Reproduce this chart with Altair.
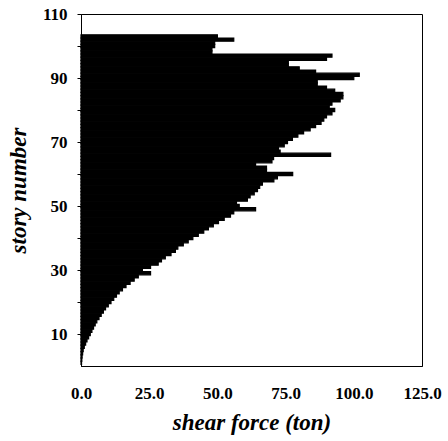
import altair as alt
import pandas as pd

stories = list(range(1, 104))
shear = [
    0.2, 0.3, 0.4, 0.6, 0.8, 1.2, 1.7, 2.2, 2.8, 3.4,
    4.0, 4.6, 5.2, 5.8, 6.6, 7.4, 8.2, 9.0, 10.0, 11.0,
    12.0, 13.0, 14.0, 15.2, 16.5, 18.0, 19.5, 21.0, 25.5, 22.5,
    25.5, 28.3, 29.5, 30.9, 33.0, 34.6, 35.5, 37.5, 39.3, 41.0,
    43.0, 45.0, 46.7, 48.5, 50.4, 52.5, 54.8, 56.0, 64.0, 58.0,
    57.0, 61.0, 62.0, 63.5, 64.7, 65.5, 66.5, 70.7, 72.0, 77.6,
    68.0, 68.0, 64.0, 70.0, 70.6, 91.5, 73.0, 72.4, 74.5, 75.7,
    77.5, 79.5, 81.6, 84.0, 86.0, 88.0, 89.0, 90.0, 92.0, 93.0,
    91.0, 92.0, 95.0, 96.0, 96.0, 93.0, 90.0, 86.6, 86.6, 100.0,
    102.0, 86.0, 80.0, 76.0, 76.0, 90.0, 92.0, 48.0, 48.0, 49.0,
    49.0, 56.0, 50.0,
]

df = pd.DataFrame({"story": stories, "shear": shear})
df["lo"] = df["story"] - 0.5
df["hi"] = df["story"] + 0.5
df["zero"] = 0.0

FONT = "Liberation Serif"

chart = alt.Chart(df).mark_rect(color="black", stroke="black", strokeWidth=1.2).encode(
    x=alt.X("zero:Q", scale=alt.Scale(domain=[0, 125], nice=False, zero=True),
            axis=alt.Axis(values=[0, 25, 50, 75, 100, 125], format=".1f", grid=False,
                          ticks=False, labelPadding=19, labelFontSize=17, labelFlush=False,
                          labelFont=FONT, labelFontWeight="bold", labelColor="black",
                          domainColor="black", title="shear force (ton)",
                          titleFont=FONT, titleFontSize=23, titleFontWeight="bold",
                          titleFontStyle="italic", titlePadding=10, titleColor="black")),
    x2="shear:Q",
    y=alt.Y("lo:Q", scale=alt.Scale(domain=[0, 110], nice=False),
            axis=alt.Axis(values=list(range(10, 111, 10)),
                          labelExpr="datum.value % 20 == 10 ? datum.label : ''",
                          grid=False, tickSize=4, tickColor="black", labelPadding=10,
                          labelFontSize=17, labelFont=FONT, labelFontWeight="bold",
                          labelColor="black", domainColor="black", labelFlush=False,
                          title="story number", titleFont=FONT, titleFontSize=23,
                          titleFontWeight="bold", titleFontStyle="italic",
                          titlePadding=12, titleColor="black")),
    y2="hi:Q",
).properties(
    width=341, height=352,
    autosize=alt.AutoSizeParams(type="none"),
    padding={"left": 81, "top": 14, "right": 26, "bottom": 75},
).configure_view(stroke="black", strokeWidth=1)

chart.save("out.html", embed_options={"renderer": "svg", "actions": False})
